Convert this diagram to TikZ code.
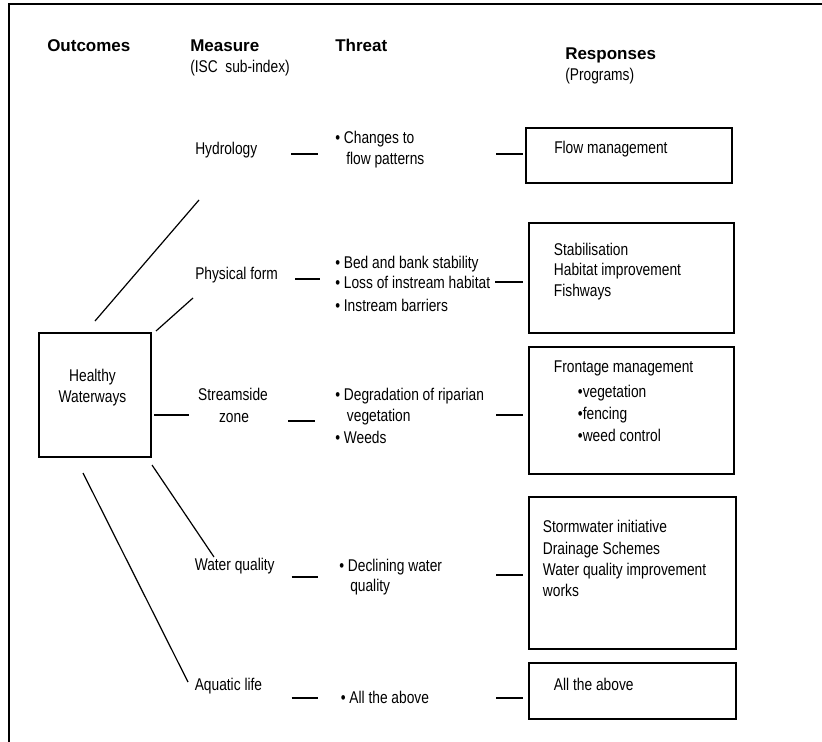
\documentclass[tikz,border=0pt]{standalone}
\usepackage{fontspec}
\setmainfont{Liberation Sans}[FakeStretch=0.81]
\newfontfamily\hdfont{Liberation Sans}
\usetikzlibrary{fit}
\tikzset{
  txt/.style={anchor=base west, inner sep=0pt, font=\fontsize{12.75}{15}\selectfont},
  ctxt/.style={txt, anchor=base},
  hd/.style={anchor=base west, inner sep=0pt, font=\hdfont\bfseries\fontsize{12.75}{15}\selectfont},
  box/.style={draw, line width=1.4pt, inner sep=0pt},
  conn/.style={line width=1.1pt},
  diag/.style={line width=0.9pt},
  tick/.style={line width=1.4pt},
  frame/.style={line width=1.3pt}
}
\begin{document}
\begin{tikzpicture}[x=0.75pt,y=-0.75pt]
\useasboundingbox (0,0) rectangle (822,742);
% frame
\coordinate (fTR) at (822,4);
\coordinate (fTL) at (9,4);
\coordinate (fBL) at (9,742);
\draw[frame] (fTR) -- (fTL) -- (fBL);

% headers
\node[hd] (h1) at (47,51.7) {Outcomes};
\node[hd] (h2) at (190,51.7) {Measure};
\node[txt] (h2s) at (190,72.5) {(ISC~~sub-index)};
\node[hd] (h3) at (335,51.7) {Threat};
\node[hd] (h4) at (565,59.3) {Responses};
\node[txt] (h4s) at (565,80.5) {(Programs)};

% outcome box
\node[box, fit={(39,333) (151,457)}] (hw) {};
\node[ctxt] (hw1) at (92.5,381.7) {Healthy};
\node[ctxt] (hw2) at (92.5,402.7) {Waterways};

% measures
\node[txt] (m1) at (195,155) {Hydrology};
\node[txt] (m2) at (195,279) {Physical form};
\node[ctxt] (m3a) at (233,400.7) {Streamside};
\node[ctxt] (m3b) at (234,422.7) {zone};
\node[txt] (m4) at (194.5,570) {Water quality};
\node[txt] (m5) at (194.5,690) {Aquatic life};

% threats
\node[txt] (t1a) at (335,144) {• Changes to};
\node[txt] (t1b) at (346,165) {flow patterns};
\node[txt] (t2a) at (335,268.3) {• Bed and bank stability};
\node[txt] (t2b) at (335,288.5) {• Loss of instream habitat};
\node[txt] (t2c) at (335,311) {• Instream barriers};
\node[txt] (t3a) at (335,400.5) {• Degradation of riparian};
\node[txt] (t3b) at (346.7,421.7) {vegetation};
\node[txt] (t3c) at (335,443) {• Weeds};
\node[txt] (t4a) at (339,571.7) {• Declining water};
\node[txt] (t4b) at (350,591.7) {quality};
\node[txt] (t5) at (340.5,703.3) {• All the above};

% response boxes
\node[box, fit={(526,128) (731.7,183.3)}] (r1) {};
\node[txt] (r1a) at (554,154) {Flow management};

\node[box, fit={(528.7,222.7) (734.3,333.3)}] (r2) {};
\node[txt] (r2a) at (553.7,255) {Stabilisation};
\node[txt] (r2b) at (553.7,275.5) {Habitat improvement};
\node[txt] (r2c) at (553.7,296) {Fishways};

\node[box, fit={(528.7,346.7) (734.3,474)}] (r3) {};
\node[txt] (r3a) at (553.7,372) {Frontage management};
\node[txt] (r3b) at (577.7,397) {•vegetation};
\node[txt] (r3c) at (577.7,419) {•fencing};
\node[txt] (r3d) at (577.7,441.5) {•weed control};

\node[box, fit={(528.7,496.7) (736,649)}] (r4) {};
\node[txt] (r4a) at (542.7,532.7) {Stormwater initiative};
\node[txt] (r4b) at (542.7,554) {Drainage Schemes};
\node[txt] (r4c) at (542.7,575) {Water quality improvement};
\node[txt] (r4d) at (542.7,596.7) {works};

\node[box, fit={(528.7,663.3) (736,719.3)}] (r5) {};
\node[txt] (r5a) at (553.7,690.7) {All the above};

% outcome-to-measure connectors
\coordinate (a1) at (95,321);   \coordinate (a2) at (199,200);
\coordinate (b1) at (156,331);  \coordinate (b2) at (193,298);
\coordinate (c1) at (154.3,415);\coordinate (c2) at (189,415);
\coordinate (d1) at (152,465);  \coordinate (d2) at (214,557);
\coordinate (e1) at (83,473);   \coordinate (e2) at (188,682);
\draw[diag] (a1) -- (a2);
\draw[diag] (b1) -- (b2);
\draw[conn] (c1) -- (c2);
\draw[diag] (d1) -- (d2);
\draw[diag] (e1) -- (e2);

% measure-to-threat ticks
\coordinate (p1a) at (291,154.3);   \coordinate (p1b) at (318,154.3);
\coordinate (p2a) at (295,279);     \coordinate (p2b) at (320,279);
\coordinate (p3a) at (288,421);     \coordinate (p3b) at (315,421);
\coordinate (p4a) at (291.7,576.7); \coordinate (p4b) at (317.7,576.7);
\coordinate (p5a) at (291.7,697.7); \coordinate (p5b) at (317.7,697.7);
\draw[tick] (p1a) -- (p1b);
\draw[tick] (p2a) -- (p2b);
\draw[tick] (p3a) -- (p3b);
\draw[tick] (p4a) -- (p4b);
\draw[tick] (p5a) -- (p5b);

% threat-to-response ticks
\coordinate (q1a) at (496,154);   \coordinate (q1b) at (522.7,154);
\coordinate (q2a) at (495,282.3); \coordinate (q2b) at (523,282.3);
\coordinate (q3a) at (496,415);   \coordinate (q3b) at (522.7,415);
\coordinate (q4a) at (496,575);   \coordinate (q4b) at (522.7,575);
\coordinate (q5a) at (496,697.7); \coordinate (q5b) at (522.7,697.7);
\draw[tick] (q1a) -- (q1b);
\draw[tick] (q2a) -- (q2b);
\draw[tick] (q3a) -- (q3b);
\draw[tick] (q4a) -- (q4b);
\draw[tick] (q5a) -- (q5b);
\end{tikzpicture}
\end{document}
